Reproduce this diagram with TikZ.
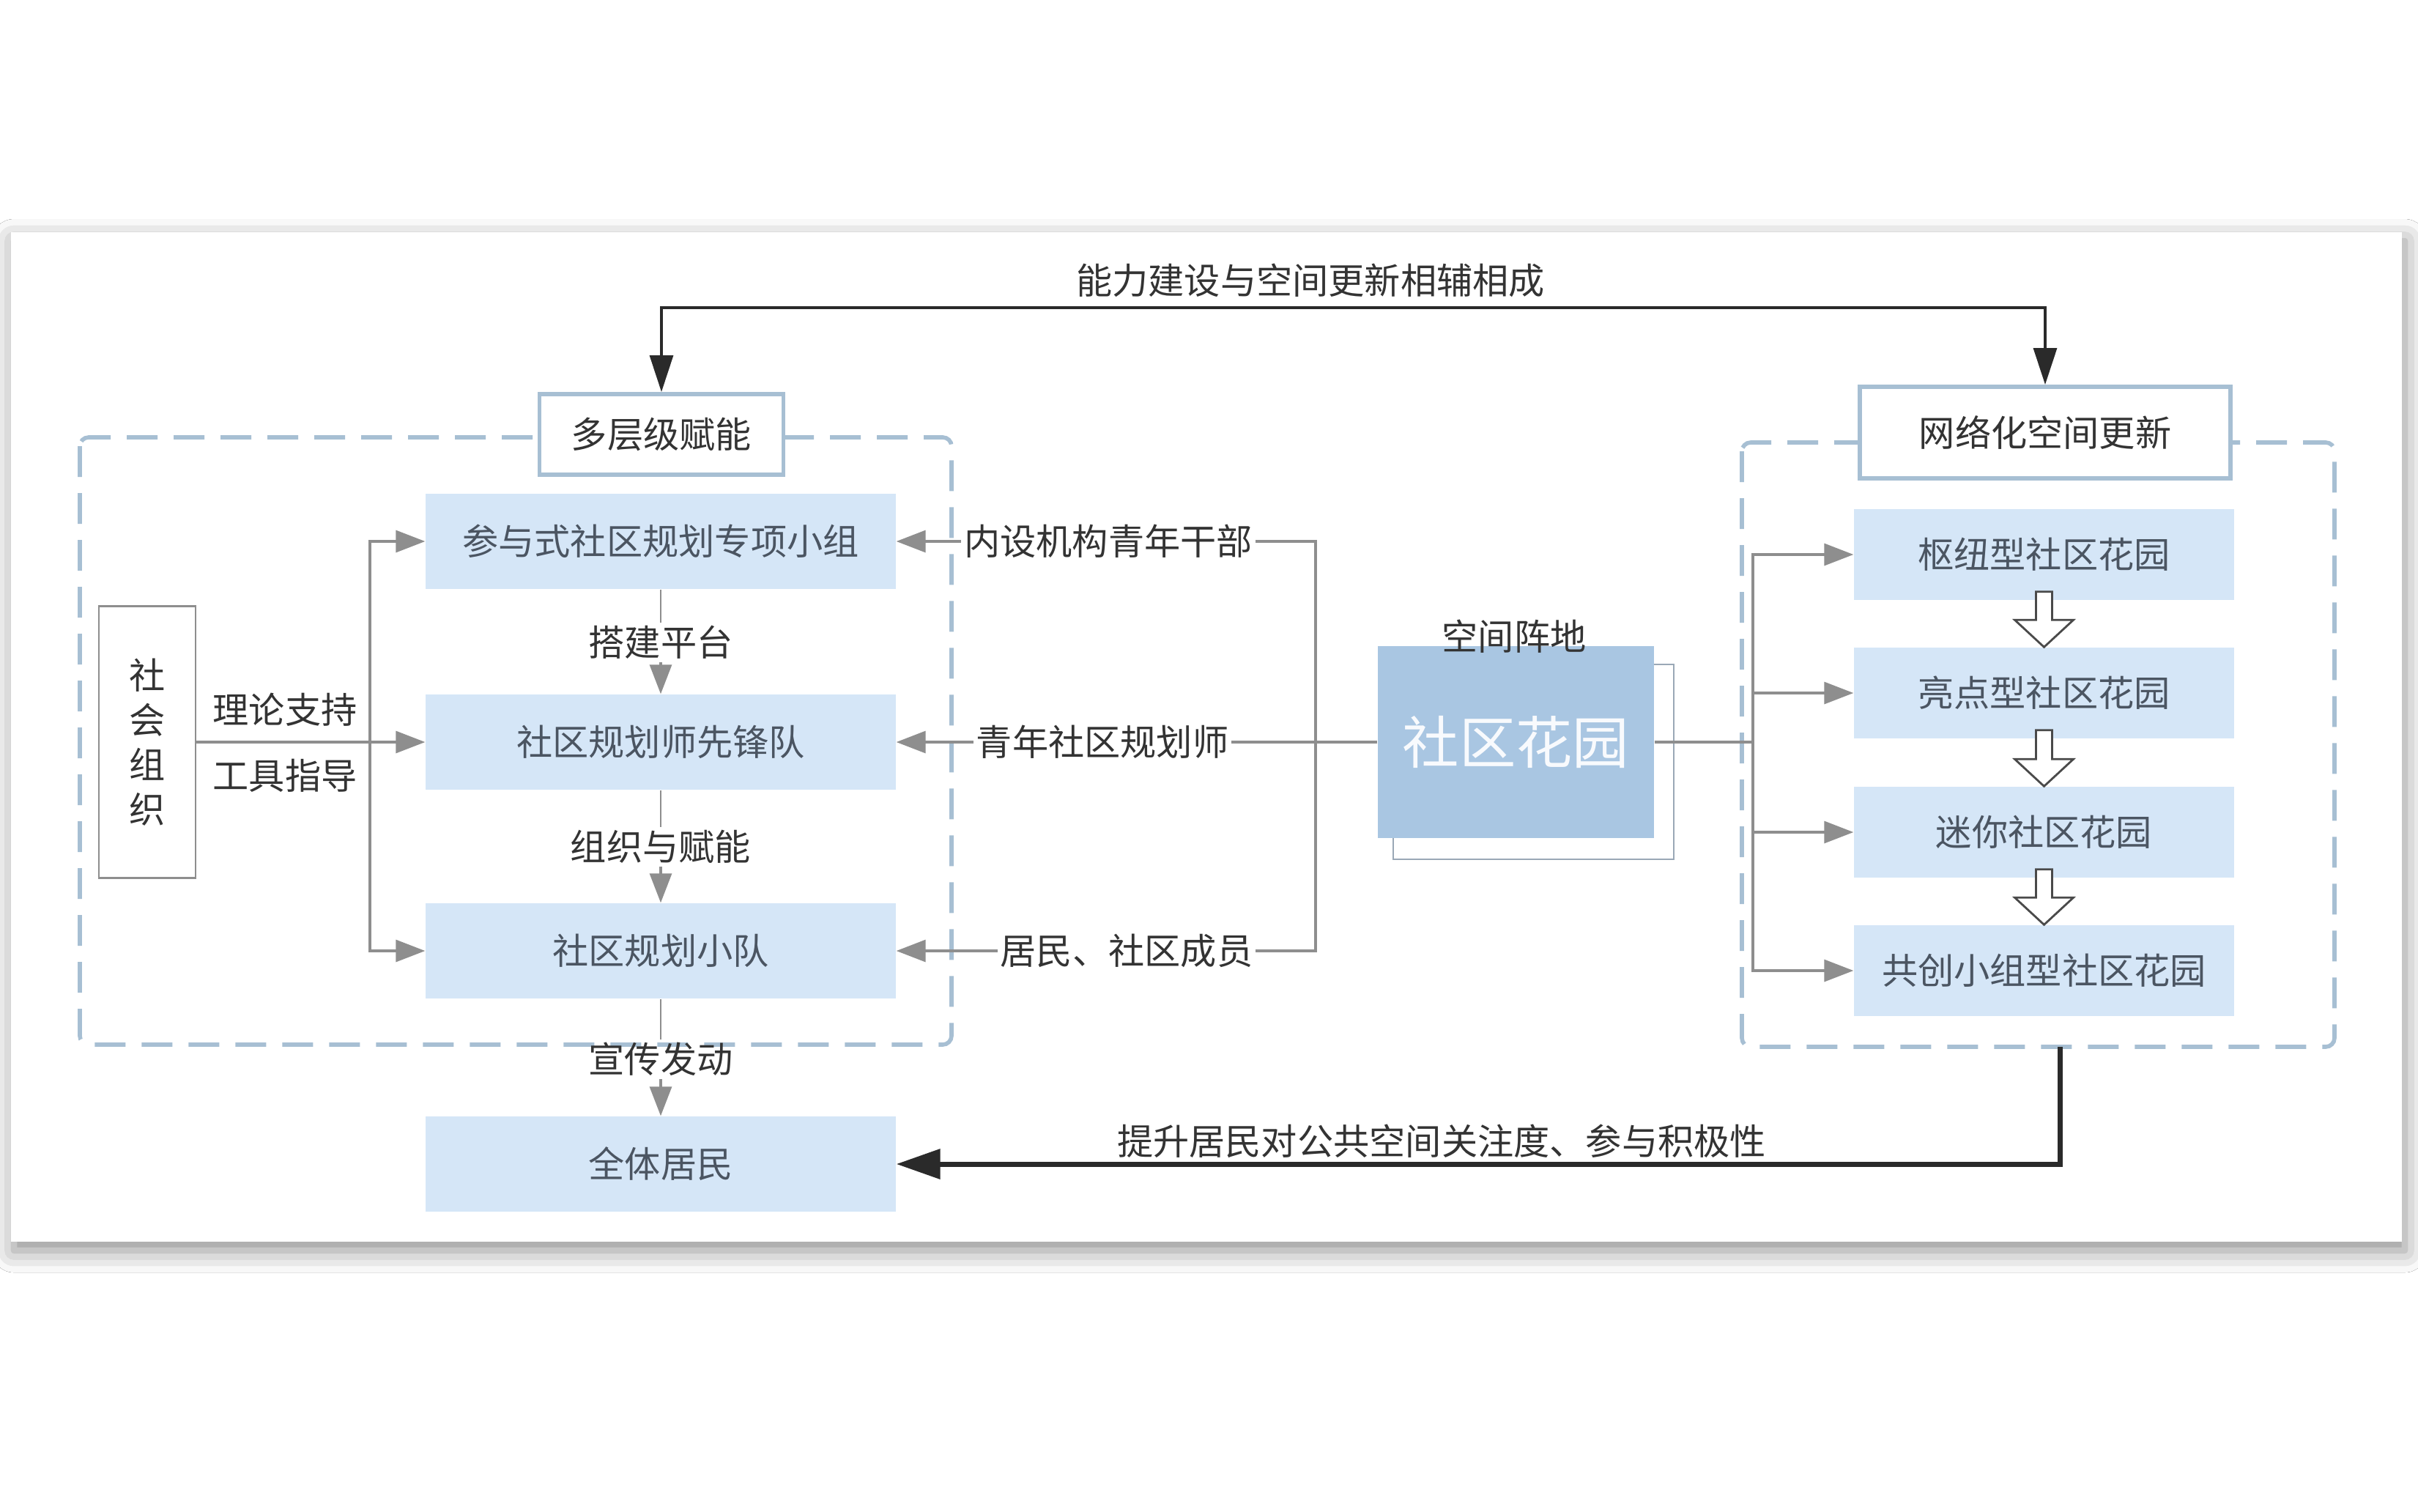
\documentclass[tikz,border=0pt]{standalone}
\usepackage{fontspec}
\setmainfont{Noto Sans CJK SC}
\usetikzlibrary{positioning,calc,arrows.meta,shadows.blur}

\definecolor{boxblue}{HTML}{D5E6F7}
\definecolor{gardenblue}{HTML}{A9C6E2}
\definecolor{dashblue}{HTML}{A7BFD3}
\definecolor{framegray}{HTML}{9AA8B6}
\definecolor{txtgray}{HTML}{4B5562}
\definecolor{txtdark}{HTML}{333333}
\definecolor{arrowgray}{HTML}{8E8E8E}
\definecolor{linedark}{HTML}{2A2A2A}

\tikzset{
  cn/.style={font=\fontsize{14pt}{17pt}\selectfont},
  subbox/.style={cn, fill=boxblue, text=txtgray, minimum width=6.42cm, minimum height=1.30cm, inner sep=0pt},
  gbox/.style={cn, fill=boxblue, text=txtgray, minimum width=5.19cm, minimum height=1.24cm, inner sep=0pt},
  titlebox/.style={cn, draw=dashblue, line width=1.7pt, fill=white, text=txtdark, inner sep=0pt},
  lbl/.style={cn, text=txtdark, inner sep=1pt},
  grp/.style={draw=dashblue, line width=1.6pt, dash pattern=on 0.42cm off 0.22cm, rounded corners=0.12cm},
  gline/.style={draw=arrowgray, line width=0.9pt},
  glink/.style={draw=arrowgray, line width=0.6pt},
  garrow/.style={gline, -{Triangle[length=0.40cm,width=0.30cm]}},
  darrow/.style={draw=linedark, line width=0.9pt},
  hollow/.style={draw=linedark!85, line width=0.8pt, fill=white, line join=miter}
}

\begin{document}
\begin{tikzpicture}
    \useasboundingbox (0,0) rectangle (33.01,-20.63);
    \fill[white] (0,0) rectangle (33.01,-20.63);

    % card
    \fill[white, blur shadow={shadow xshift=0.04cm, shadow yshift=-0.12cm, shadow blur radius=0.3cm, shadow opacity=45}] (0.15,-3.17) rectangle (32.79,-16.95);

    % dashed groups
    \draw[grp] (1.09,-5.97) rectangle (12.99,-14.26);
    \draw[grp] (23.78,-6.04) rectangle (31.87,-14.29);

    % titles
    \node[titlebox, minimum width=3.33cm, minimum height=1.10cm] (multi) at (9.03,-5.93) {多层级赋能};
    \node[titlebox, minimum width=5.06cm, minimum height=1.25cm] (network) at (27.92,-5.905) {网络化空间更新};
    \node[lbl] (mutual) at (17.89,-3.83) {能力建设与空间更新相辅相成};

    % left column
    \node[subbox] (sub1) at (9.02,-7.39) {参与式社区规划专项小组};
    \node[subbox] (sub2) at (9.02,-10.13) {社区规划师先锋队};
    \node[subbox] (sub3) at (9.02,-12.98) {社区规划小队};
    \node[subbox] (all) at (9.02,-15.89) {全体居民};

    \node[lbl] (build) at (9.02,-8.77) {搭建平台};
    \node[lbl] (empower) at (9.02,-11.56) {组织与赋能};
    \node[lbl] (promote) at (9.02,-14.46) {宣传发动};

    \draw[glink] (sub1.south) -- (build.north);
    \draw[garrow] (build.south) -- (sub2.north);
    \draw[glink] (sub2.south) -- (empower.north);
    \draw[garrow] (empower.south) -- (sub3.north);
    \draw[glink] (sub3.south) -- (promote.north);
    \draw[garrow] (promote.south) -- (all.north);

    % social organisation
    \node[draw=arrowgray, line width=0.8pt, text=txtdark, font=\fontsize{14pt}{17.4pt}\selectfont, align=center, minimum width=1.32cm, minimum height=3.71cm, inner sep=0pt] (org) at (2.01,-10.13) {社\\会\\组\\织};
    \node[lbl] (theory) at (3.89,-9.69) {理论支持};
    \node[lbl] (tools) at (3.89,-10.59) {工具指导};
    \coordinate (hubS) at (5.05,-10.13);

    \draw[garrow] (org.east) -- (sub2.west);
    \draw[garrow] (hubS) |- (sub1.west);
    \draw[garrow] (hubS) |- (sub3.west);

    % garden
    \draw[framegray, line width=0.6pt] (19.02,-9.07) rectangle (22.85,-11.73);
    \node[fill=gardenblue, text=white!92!gardenblue, font=\fontsize{22pt}{26pt}\selectfont, minimum width=3.77cm, minimum height=2.62cm, inner sep=0pt] (garden) at (20.695,-10.13) {社区花园};
    \node[lbl] (base) at (20.67,-8.69) {空间阵地};

    % people feeding in
    \node[lbl] (cadre) at (15.13,-7.39) {内设机构青年干部};
    \node[lbl] (planner) at (15.05,-10.13) {青年社区规划师};
    \node[lbl] (resident) at (15.38,-12.98) {居民、社区成员};
    \coordinate (hubL) at (17.96,-10.13);

    \draw[gline] (cadre.east) -| (hubL) |- (resident.east);
    \draw[gline] (garden.west) -- (planner.east);
    \draw[garrow] (cadre.west) -- (sub1.east);
    \draw[garrow] (planner.west) -- (sub2.east);
    \draw[garrow] (resident.west) -- (sub3.east);

    % right column
    \foreach \n/\y/\t in {g1/7.57/枢纽型社区花园, g2/9.46/亮点型社区花园, g3/11.36/迷你社区花园, g4/13.25/共创小组型社区花园}
        \node[gbox] (\n) at (27.905,-\y) {\t};

    \coordinate (hubR) at (23.93,-10.13);
    \draw[gline] (garden.east) -- (hubR);
    \foreach \n in {g1,g2,g3,g4}
        \draw[garrow] (hubR) |- (\n.west);

    \foreach \a/\b in {g1/g2,g2/g3,g3/g4}
        \draw[hollow] ($(\a.south)+(-0.11,0.12)$) -- ($(\b.north)+(-0.11,0.37)$) -- ($(\b.north)+(-0.40,0.37)$) -- (\b.north) -- ($(\b.north)+(0.40,0.37)$) -- ($(\b.north)+(0.11,0.37)$) -- ($(\a.south)+(0.11,0.12)$) -- cycle;

    % top link
    \coordinate (topL) at (9.03,-4.20);
    \coordinate (topR) at (27.92,-4.20);
    \draw[darrow, {Triangle[length=0.50cm,width=0.32cm]}-{Triangle[length=0.50cm,width=0.32cm]}] (multi.north) -- (topL) -- (topR) -- (network.north);

    % bottom link
    \coordinate (upR) at (28.12,-14.29);
    \node[lbl] (raise) at (19.68,-15.58) {提升居民对公共空间关注度、参与积极性};
    \draw[draw=linedark, line width=2pt, -{Triangle[length=0.60cm,width=0.40cm]}] (upR) |- (all.east);
\end{tikzpicture}
\end{document}
